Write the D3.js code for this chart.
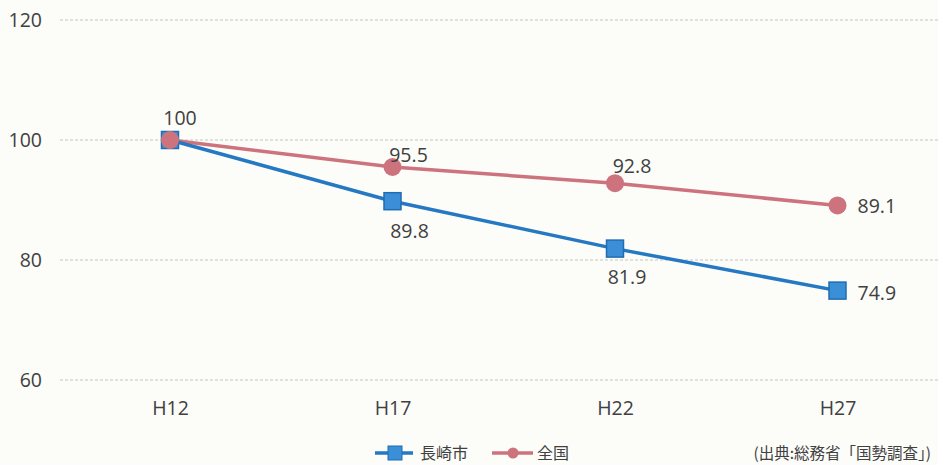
<!DOCTYPE html>
<html>
<head>
<meta charset="utf-8">
<script src="https://cdn.jsdelivr.net/npm/d3@7"></script>
<style>
  body { margin: 0; background: #fcfcf9; }
  svg { display: block; font-family: "Open Sans", "Noto Sans CJK JP", sans-serif; }
  .tick text { fill: #404040; font-size: 19.5px; font-family: "Open Sans", sans-serif; }
  .lbl { fill: #404040; font-size: 19.5px; }
  .leg { fill: #404040; font-size: 16px; font-family: "Noto Sans CJK JP", sans-serif; }
</style>
</head>
<body>
<svg width="938" height="465"></svg>
<script>
const years = ["H12", "H17", "H22", "H27"];
const nagasaki = [100, 89.8, 81.9, 74.9];
const zenkoku = [100, 95.5, 92.8, 89.1];
const yTicks = [60, 80, 100, 120];

const svg = d3.select("svg");

const x = d3.scalePoint().domain(years).range([170, 837.5]);
const y = d3.scaleLinear().domain([60, 120]).range([380, 20]);

// gridlines
svg.append("g")
  .selectAll("line")
  .data(yTicks)
  .enter()
  .append("line")
  .attr("x1", 60)
  .attr("x2", 938)
  .attr("y1", (d) => y(d))
  .attr("y2", (d) => y(d))
  .attr("stroke", "#c4c4c4")
  .attr("stroke-width", 1)
  .attr("stroke-dasharray", "3,2");

const yAxis = svg.append("g")
  .attr("transform", "translate(44,0)")
  .call(d3.axisLeft(y).tickValues(yTicks).tickSize(0).tickPadding(2));
yAxis.select(".domain").remove();

const xAxis = svg.append("g")
  .attr("transform", "translate(0,398)")
  .call(d3.axisBottom(x).tickSize(0).tickPadding(3));
xAxis.select(".domain").remove();

const blue = "#2578c2";
const pink = "#cd737d";

const line = d3.line()
  .x((d, i) => x(years[i]))
  .y((d) => y(d));

svg.append("path")
  .datum(zenkoku)
  .attr("d", line)
  .attr("fill", "none")
  .attr("stroke", pink)
  .attr("stroke-width", 3.5);

svg.append("path")
  .datum(nagasaki)
  .attr("d", line)
  .attr("fill", "none")
  .attr("stroke", blue)
  .attr("stroke-width", 3.5);

// markers (blue square drawn first so the pink circle sits on it at H12)
svg.append("g")
  .selectAll("rect")
  .data(nagasaki)
  .enter()
  .append("rect")
  .attr("x", (d, i) => x(years[i]) - 8.5)
  .attr("y", (d) => y(d) - 8.5)
  .attr("width", 17)
  .attr("height", 17)
  .attr("fill", "#3a8fd6")
  .attr("stroke", "#1f6db3")
  .attr("stroke-width", 1.5);

svg.append("g")
  .selectAll("circle")
  .data(zenkoku)
  .enter()
  .append("circle")
  .attr("cx", (d, i) => x(years[i]))
  .attr("cy", (d) => y(d))
  .attr("r", 9)
  .attr("fill", pink);

// data labels (H12 長崎市 label is hidden behind the 全国 one)
const nagOff = [null, [17, 37], [12, 35], [20, 9]];
const zenOff = [[10, -15], [16, -5], [17, -10], [20, 8]];

const nagLabels = nagasaki
  .map((v, i) => ({ v: v, i: i }))
  .filter((d) => nagOff[d.i] !== null);

svg.append("g")
  .selectAll("text")
  .data(nagLabels)
  .enter()
  .append("text")
  .attr("class", "lbl")
  .attr("text-anchor", (d) => (d.i === 3 ? "start" : "middle"))
  .attr("x", (d) => x(years[d.i]) + nagOff[d.i][0])
  .attr("y", (d) => y(d.v) + nagOff[d.i][1])
  .text((d) => d.v.toFixed(1));

svg.append("g")
  .selectAll("text")
  .data(zenkoku)
  .enter()
  .append("text")
  .attr("class", "lbl")
  .attr("text-anchor", (d, i) => (i === 3 ? "start" : "middle"))
  .attr("x", (d, i) => x(years[i]) + zenOff[i][0])
  .attr("y", (d, i) => y(d) + zenOff[i][1])
  .text((d, i) => (i === 0 ? "100" : d.toFixed(1)));

// legend
const leg = svg.append("g").attr("transform", "translate(375,453)");
leg.append("line").attr("x1", 0).attr("x2", 38).attr("y1", 0).attr("y2", 0)
  .attr("stroke", blue).attr("stroke-width", 3.5);
leg.append("rect").attr("x", 13).attr("y", -7).attr("width", 14).attr("height", 14)
  .attr("fill", "#3a8fd6").attr("stroke", "#1f6db3");
leg.append("text").attr("class", "leg").attr("x", 45).attr("y", 6).text("長崎市");
leg.append("line").attr("x1", 117).attr("x2", 158).attr("y1", 0).attr("y2", 0)
  .attr("stroke", pink).attr("stroke-width", 3.5);
leg.append("circle").attr("cx", 138).attr("cy", 0).attr("r", 5.5).attr("fill", pink);
leg.append("text").attr("class", "leg").attr("x", 162).attr("y", 6).text("全国");

svg.append("text")
  .attr("class", "leg")
  .attr("x", 931)
  .attr("y", 459)
  .attr("text-anchor", "end")
  .style("font-size", "15.5px")
  .text("(出典:総務省「国勢調査」)");
</script>
</body>
</html>
